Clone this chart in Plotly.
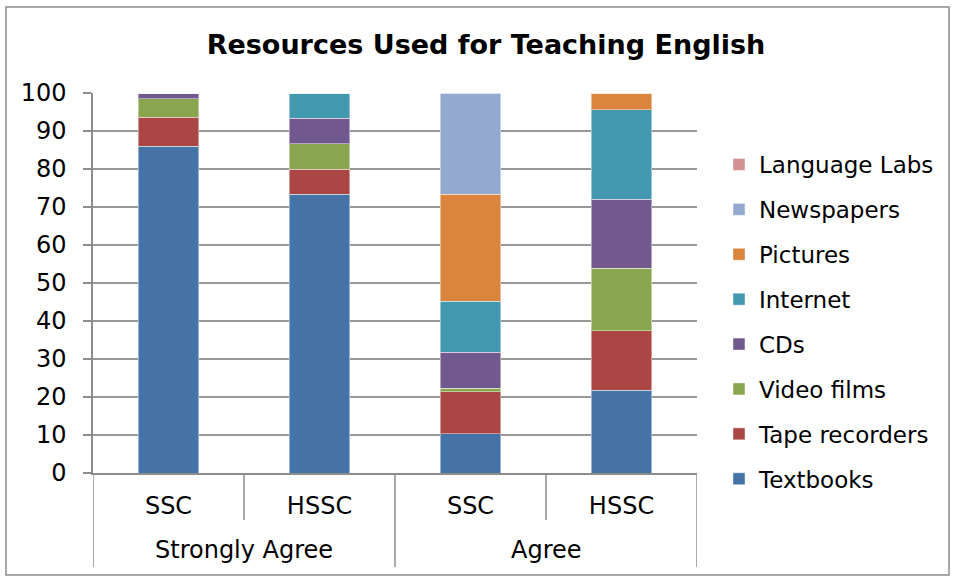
import plotly.graph_objects as go

# Survey response groups and school levels
groups = ["Strongly Agree", "Strongly Agree", "Agree", "Agree"]
levels = ["SSC", "HSSC", "SSC", "HSSC"]
group_names = ["Strongly Agree", "Agree"]

# Percentage of respondents per resource (stacked to 100)
textbooks = [86.0, 73.3, 10.3, 21.8]
tape_recorders = [7.6, 6.7, 11.1, 15.7]
video_films = [4.9, 6.7, 0.9, 16.4]
cds = [1.5, 6.7, 9.5, 18.2]
internet = [0.0, 6.6, 13.4, 23.5]
pictures = [0.0, 0.0, 28.1, 4.4]
newspapers = [0.0, 0.0, 26.7, 0.0]
language_labs = [0.0, 0.0, 0.0, 0.0]

series = [
    ("Textbooks", textbooks, "#4572A7"),
    ("Tape recorders", tape_recorders, "#AA4643"),
    ("Video films", video_films, "#89A54E"),
    ("CDs", cds, "#71588F"),
    ("Internet", internet, "#4198AF"),
    ("Pictures", pictures, "#DB843D"),
    ("Newspapers", newspapers, "#93A9CF"),
    ("Language Labs", language_labs, "#D19392"),
]

FONT = "DejaVu Sans"
FS = 24
x_pos = list(range(len(levels)))

fig = go.Figure()
n = len(series)
for i, (name, vals, color) in enumerate(series):
    fig.add_trace(go.Bar(
        x=x_pos, y=vals, name=name, legendgroup=name, legendrank=n - i,
        marker=dict(color=color, line=dict(color="rgba(255,255,255,0.45)", width=1)),
        width=0.4,
    ))

# plot area in pixels
W, H = 956, 578
L, R, T, B = 93, 697, 93, 473
pw, ph = R - L, B - T

def px(x):
    return (x - L) / pw

def py(y):
    return (B - y) / ph

shapes = []
# category dividers below the axis
for i, xv in enumerate([-0.5, 0.5, 1.5, 2.5, 3.5]):
    low = 567 if i % 2 == 0 else 520
    shapes.append(dict(type="line", xref="x", yref="paper", x0=xv, x1=xv,
                       y0=0, y1=py(low), line=dict(color="#8c8c8c", width=1.5)))
# outer chart border
shapes.append(dict(type="rect", xref="paper", yref="paper",
                   x0=px(6), x1=px(949), y0=py(575), y1=py(7),
                   line=dict(color="#8c8c8c", width=1.5)))

annotations = []
for g in group_names:
    centers = [x for x, gg in zip(x_pos, groups) if gg == g]
    annotations.append(dict(x=sum(centers) / len(centers), y=py(550), xref="x", yref="paper",
                            text=g, showarrow=False, font=dict(family=FONT, size=FS, color="#000"),
                            xanchor="center", yanchor="middle"))

fig.update_layout(
    width=W, height=H,
    margin=dict(l=L, r=W - R, t=T, b=H - B),
    paper_bgcolor="white", plot_bgcolor="white",
    barmode="stack",
    title=dict(text="<b>Resources Used for Teaching English</b>", xref="container", x=486 / W,
               xanchor="center", yref="container", y=1 - 45 / H, yanchor="middle",
               font=dict(family=FONT, size=27, color="#000")),
    xaxis=dict(range=[-0.5, 3.5], tickvals=x_pos, ticktext=levels, showgrid=False,
               showline=True, linecolor="#8c8c8c", linewidth=1.5, ticks="",
               ticklabelstandoff=10, tickfont=dict(family=FONT, size=FS, color="#000"),
               fixedrange=True),
    yaxis=dict(range=[0, 100], dtick=10, showgrid=True, gridcolor="#999999", gridwidth=1.5,
               showline=True, linecolor="#8c8c8c", linewidth=1.5, ticks="outside",
               ticklen=8, tickcolor="#8c8c8c", tickwidth=1.5, zeroline=False,
               ticklabelstandoff=12,
               tickfont=dict(family=FONT, size=FS, color="#000"), fixedrange=True),
    legend=dict(x=px(719), y=py(143), xanchor="left", yanchor="top",
                traceorder="grouped", tracegroupgap=12,
                font=dict(family=FONT, size=23, color="#000"), itemwidth=30,
                borderwidth=0, bgcolor="rgba(0,0,0,0)"),
    shapes=shapes,
    annotations=annotations,
    showlegend=True,
)

fig.write_html("out.html")
